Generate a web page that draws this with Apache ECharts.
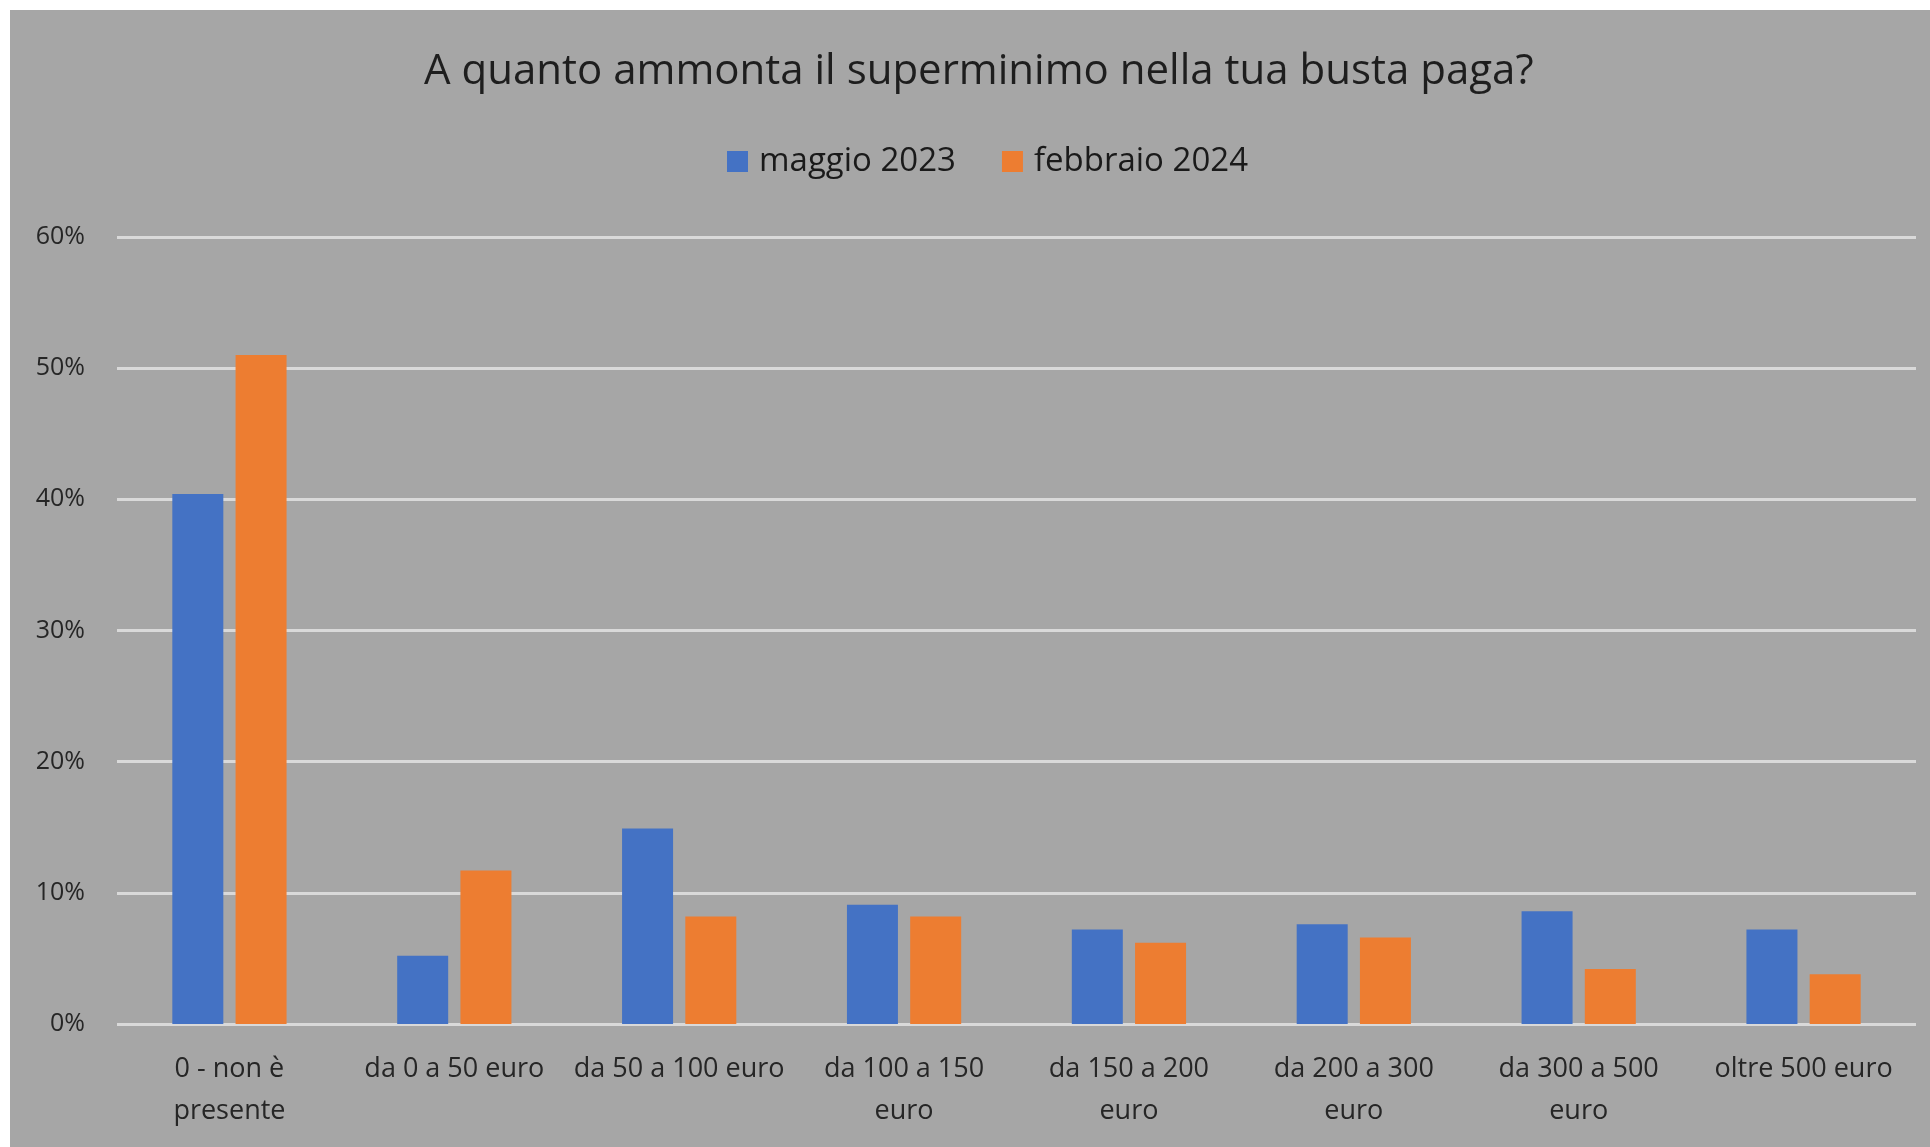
<!DOCTYPE html>
<html>
<head>
<meta charset="utf-8">
<script src="https://cdn.jsdelivr.net/npm/echarts@6/dist/echarts.min.js"></script>
<style>
html,body{margin:0;padding:0;background:#ffffff;}
#chart{position:absolute;left:10px;top:10px;width:1920px;height:1137px;}
</style>
</head>
<body>
<div id="chart"></div>
<script>
var titleText = 'A quanto ammonta il superminimo nella tua busta paga?';
var categories = ['0 - non è presente','da 0 a 50 euro','da 50 a 100 euro','da 100 a 150 euro','da 150 a 200 euro','da 200 a 300 euro','da 300 a 500 euro','oltre 500 euro'];
var tickLabels = ['0 - non è\npresente','da 0 a 50 euro','da 50 a 100 euro','da 100 a 150\neuro','da 150 a 200\neuro','da 200 a 300\neuro','da 300 a 500\neuro','oltre 500 euro'];
var seriesNames = ['maggio 2023','febbraio 2024'];
var maggio2023 = [40.4, 5.2, 14.9, 9.1, 7.2, 7.6, 8.6, 7.2];
var febbraio2024 = [51.0, 11.7, 8.2, 8.2, 6.2, 6.6, 4.2, 3.8];

var FONT = 'Open Sans';
var chart = echarts.init(document.getElementById('chart'));
chart.setOption({
  backgroundColor: '#a6a6a6',
  animation: false,
  title: {
    text: titleText,
    left: 414,
    top: 41,
    padding: 0,
    textStyle: { fontFamily: FONT, fontSize: 42, fontWeight: 'normal', color: '#1e1e1e' }
  },
  legend: {
    data: seriesNames,
    left: 717,
    top: 135,
    padding: 0,
    itemWidth: 21,
    itemHeight: 21,
    itemGap: 46,
    icon: 'rect',
    textStyle: { fontFamily: FONT, fontSize: 33, color: '#1a1a1a', padding: [0, 0, 0, 6] }
  },
  grid: { left: 107, right: 14, top: 227, bottom: 123, containLabel: false },
  xAxis: {
    type: 'category',
    data: categories,
    axisLine: { show: false },
    axisTick: { show: false },
    axisLabel: {
      interval: 0,
      margin: 24,
      fontFamily: FONT,
      fontSize: 27,
      lineHeight: 42,
      color: '#262626',
      formatter: function (v, i) { return tickLabels[i]; }
    }
  },
  yAxis: {
    type: 'value',
    min: 0,
    max: 60,
    interval: 10,
    axisLine: { show: false },
    axisTick: { show: false },
    splitLine: { lineStyle: { color: '#d9d9d9', width: 3 } },
    axisLabel: {
      margin: 32,
      fontFamily: FONT,
      fontSize: 25,
      color: '#262626',
      formatter: '{value}%'
    }
  },
  series: [
    {
      name: seriesNames[0],
      type: 'bar',
      data: maggio2023,
      itemStyle: { color: '#4472c4' },
      barWidth: 51,
      barGap: '24%'
    },
    {
      name: seriesNames[1],
      type: 'bar',
      data: febbraio2024,
      itemStyle: { color: '#ed7d31' },
      barWidth: 51,
      barGap: '24%'
    }
  ]
});
</script>
</body>
</html>
